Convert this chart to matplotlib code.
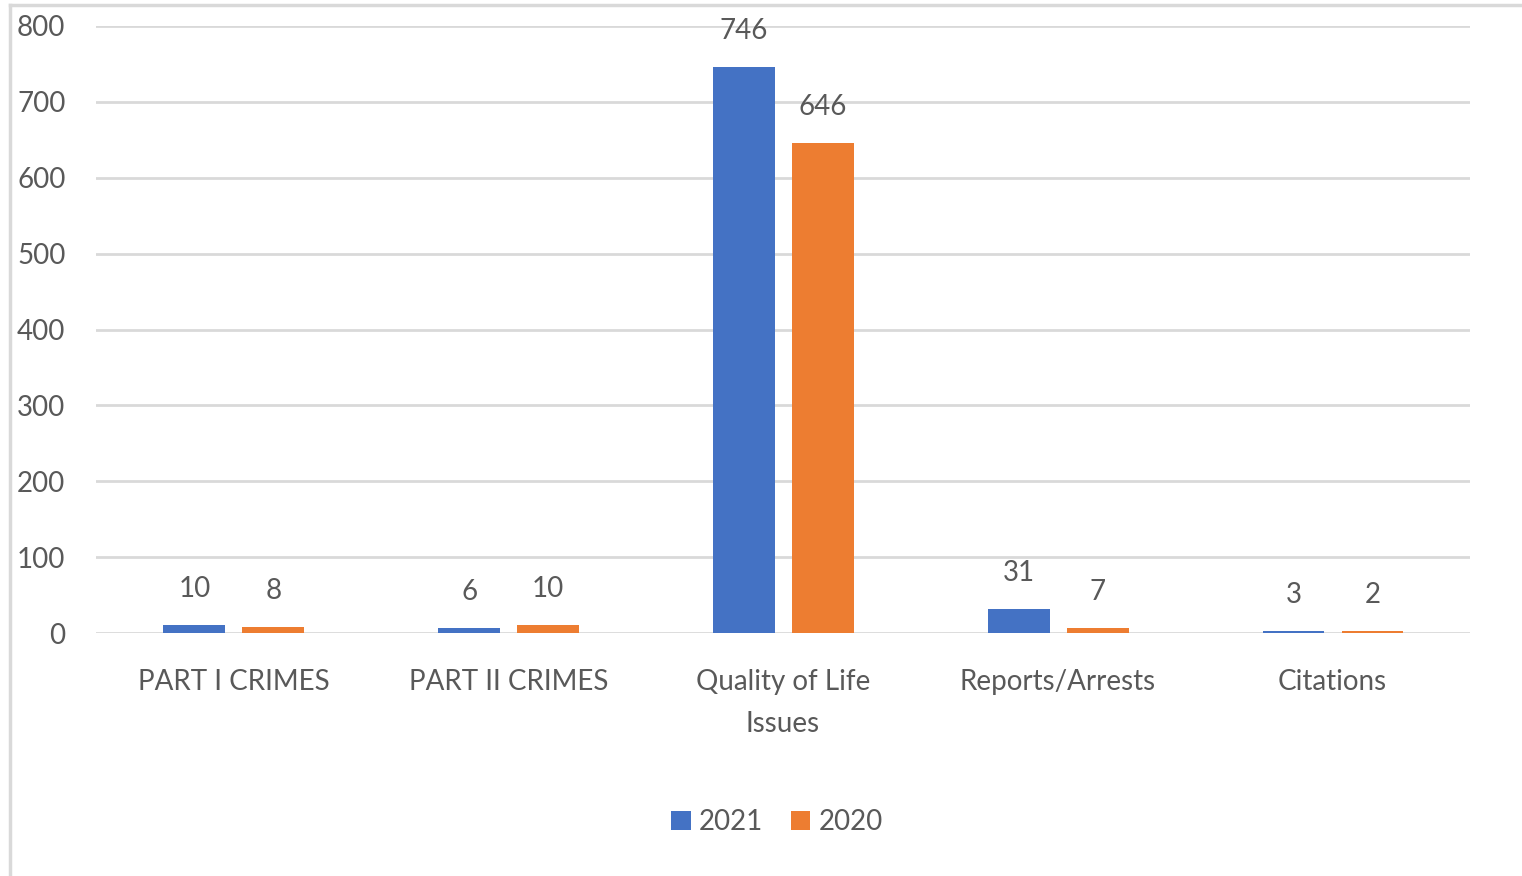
import numpy as np
import matplotlib.pyplot as plt
from matplotlib.lines import Line2D

categories = ["PART I CRIMES", "PART II CRIMES", "Quality of Life\nIssues", "Reports/Arrests", "Citations"]
series_names = ["2021", "2020"]
vals_2021 = [10, 6, 746, 31, 3]
vals_2020 = [8, 10, 646, 7, 2]
y_ticks = [0, 100, 200, 300, 400, 500, 600, 700, 800]

colors = ["#4472C4", "#ED7D31"]
text_col = "#595959"
grid_col = "#D9D9D9"
plt.rcParams['font.family'] = ['Lato', 'DejaVu Sans']

fig = plt.figure(figsize=(15.22, 8.76), dpi=100)
ax = fig.add_axes([96 / 1522, 1 - 633 / 876, (1470 - 96) / 1522, (633 - 26) / 876])

x = np.arange(len(categories))
w = 0.225
offs = [-0.142, 0.145]
for vals, off, col, name in zip([vals_2021, vals_2020], offs, colors, series_names):
    bars = ax.bar(x + off, vals, width=w, color=col, label=name, zorder=3)
    for b, v in zip(bars, vals):
        ax.annotate(str(v), (b.get_x() + b.get_width() / 2, v), xytext=(0, 26),
                    textcoords="offset points", ha="center", va="center",
                    fontsize=20, color=text_col, annotation_clip=False)

ax.set_xlim(-0.5, len(categories) - 0.5)
ax.set_ylim(0, 800)
ax.set_yticks(y_ticks)
ax.set_xticks(x)
ax.set_xticklabels(categories, fontsize=20, color=text_col, linespacing=1.75)
ax.tick_params(axis="y", labelsize=20, labelcolor=text_col, length=0, pad=22)
ax.tick_params(axis="x", length=0, pad=26)
ax.grid(axis="y", color=grid_col, linewidth=2, zorder=0)
for s in ax.spines.values():
    s.set_visible(False)

leg = fig.legend(loc="center", bbox_to_anchor=(777 / 1522, 1 - 822 / 876), ncol=2,
                 frameon=False, fontsize=20, handlelength=0.7, handleheight=0.7,
                 handletextpad=0.3, columnspacing=1.0)
for t in leg.get_texts():
    t.set_color(text_col)

# chart border
fig.add_artist(Line2D([10 / 1522, 10 / 1522], [0, 1 - 5 / 876], color=grid_col, lw=2.5))
fig.add_artist(Line2D([10 / 1522, 1], [1 - 5 / 876, 1 - 5 / 876], color=grid_col, lw=2.5))

fig.savefig("out.png", dpi=100, facecolor="white")
